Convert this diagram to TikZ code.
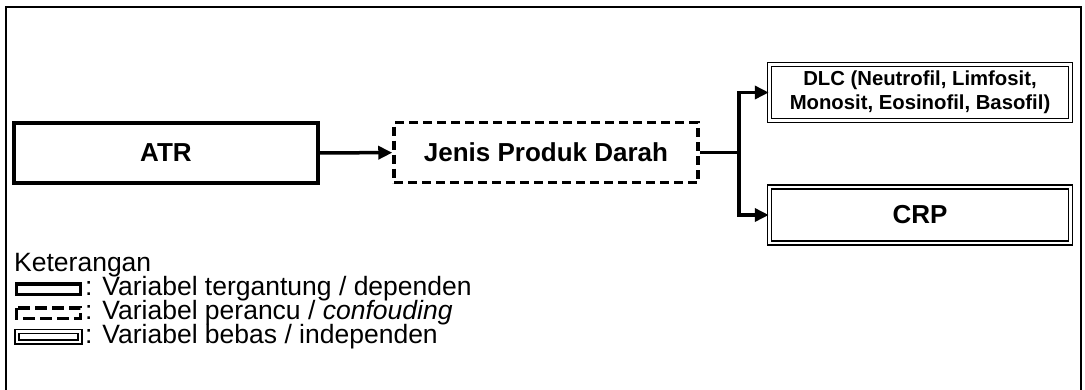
\documentclass[tikz,border=0pt]{standalone}
\usepackage{fontspec}
\setmainfont{Liberation Sans}
\usetikzlibrary{arrows.meta,positioning}
\tikzset{
  varbox/.style={draw, line width=3.5pt, minimum width=304pt, minimum height=60pt, inner sep=0pt, font=\fontsize{26}{30}\selectfont\bfseries},
  dashbox/.style={varbox, dash pattern=on 9pt off 5pt},
  dblbox/.style={varbox, line width=1.5pt, double=white, double distance=2.2pt, minimum width=301pt, minimum height=56pt},
  arr/.style={line width=3.5pt, -{Triangle[length=14pt,width=13pt]}},
  legtext/.style={anchor=west, inner sep=0pt, text height=17pt, text depth=5pt, font=\fontsize{26.5}{24}\selectfont}
}
\begin{document}
\begin{tikzpicture}[x=1pt,y=-1pt]
\useasboundingbox (0,0) rectangle (1085,389);
% outer frame
\draw[line width=2.5pt] (6,392) -- (6,7) -- (1081,7) -- (1081,392);
% variables
\node[varbox] (atr) at (166,153) {ATR};
\node[dashbox] (jenis) at (546,152.5) {Jenis Produk Darah};
\node[dblbox, align=center, font=\fontsize{20.3}{24}\selectfont\bfseries] (dlc) at (920,92.5) {DLC (Neutrofil, Limfosit,\\Monosit, Eosinofil, Basofil)};
\node[dblbox] (crp) at (920,215) {CRP};
\coordinate (split) at (739,152.5);
\draw[arr] (atr) -- (jenis);
\draw[line width=3.5pt] (jenis.east) -- (split);
\draw[arr] (split) |- (dlc.west);
\draw[arr] (split) |- (crp.west);
% legend
\node[legtext] (ket) at (14,265) {Keterangan};
\draw[line width=3.5pt] (16.5,284) rectangle (80.5,294.5);
\draw[line width=3.5pt, dash pattern=on 12pt off 5pt] (16.5,308) rectangle (80.5,318.5);
\draw[line width=1.5pt, double=white, double distance=2.2pt] (17,331.5) rectangle (80,342);
\node[legtext] (dep) at (85,289) {: Variabel tergantung / dependen};
\node[legtext] (conf) at (85,313) {: Variabel perancu / \textit{confouding}};
\node[legtext] (ind) at (85,337) {: Variabel bebas / independen};
\end{tikzpicture}
\end{document}
